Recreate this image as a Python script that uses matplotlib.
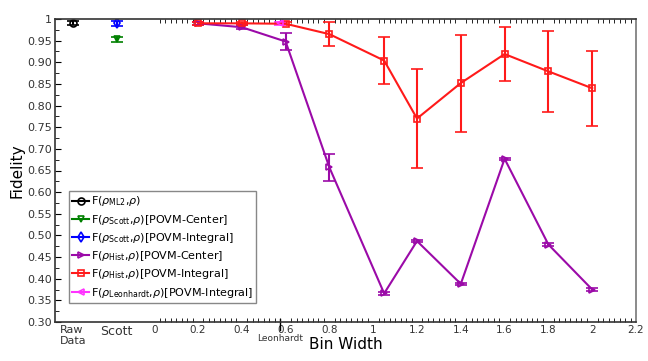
import matplotlib.pyplot as plt
from matplotlib.ticker import MultipleLocator
from matplotlib.lines import Line2D
import matplotlib.transforms as mtransforms

# Positions of the special categories on the x axis
x_raw = -0.372
x_scott = -0.171
x_leon = 0.573

# Single-point estimators
ml2_f, ml2_err = 0.990, 0.005
scott_center_f, scott_center_err = 0.953, 0.005
scott_integral_f, scott_integral_err = 0.990, 0.006
leon_f, leon_err = 0.990, 0.003

# Histogram estimators vs bin width
bin_width = [0.2, 0.4, 0.6, 0.8, 1.05, 1.2, 1.4, 1.6, 1.8, 2.0]
hist_center = [0.990, 0.981, 0.948, 0.657, 0.366, 0.487, 0.388, 0.677, 0.479, 0.375]
hist_center_err = [0.003, 0.004, 0.020, 0.032, 0.004, 0.003, 0.003, 0.003, 0.003, 0.003]
hist_integral = [0.990, 0.990, 0.989, 0.965, 0.904, 0.770, 0.852, 0.919, 0.879, 0.840]
hist_integral_err = [0.004, 0.004, 0.004, 0.027, 0.055, 0.115, 0.112, 0.063, 0.094, 0.087]

labels = [r'F($\rho_{\mathrm{ML2}}$,$\rho$)',
          r'F($\rho_{\mathrm{Scott}}$,$\rho$)[POVM-Center]',
          r'F($\rho_{\mathrm{Scott}}$,$\rho$)[POVM-Integral]',
          r'F($\rho_{\mathrm{Hist}}$,$\rho$)[POVM-Center]',
          r'F($\rho_{\mathrm{Hist}}$,$\rho$)[POVM-Integral]',
          r'F($\rho_{\mathrm{Leonhardt}}$,$\rho$)[POVM-Integral]']
colors = ['black', '#008000', '#0000ff', '#9b0aa8', '#ff1a1a', '#ff33ff']
markers = ['o', 'v', 'd', '>', 's', '<']

fig = plt.figure(figsize=(6.48, 3.61), dpi=100)
ax = fig.add_axes([55/648, 1 - 322/361, 581/648, 303/361])

ek = dict(capsize=4, elinewidth=1.5, capthick=1.5, markersize=5,
          markerfacecolor='none', markeredgewidth=1.2, lw=1.5)

ax.errorbar([x_raw], [ml2_f], yerr=[ml2_err], color=colors[0], marker=markers[0], **ek)
ax.errorbar([x_scott], [scott_center_f], yerr=[scott_center_err], color=colors[1],
            marker=markers[1], **ek)
ax.errorbar([x_scott], [scott_integral_f], yerr=[scott_integral_err], color=colors[2],
            marker=markers[2], **ek)
ax.errorbar(bin_width, hist_center, yerr=hist_center_err, color=colors[3],
            marker=markers[3], **ek)
ax.errorbar(bin_width, hist_integral, yerr=hist_integral_err, color=colors[4],
            marker=markers[4], **ek)
ax.errorbar([x_leon], [leon_f], yerr=[leon_err], color=colors[5], marker=markers[5], **ek)

ax.set_xlim(-0.453, 2.2)
ax.set_ylim(0.30, 1.0)

xt = [x_raw, x_scott, 0, 0.2, 0.4, 0.6, 0.8, 1.0, 1.2, 1.4, 1.6, 1.8, 2.0, 2.2]
xl = ['Raw\nData', 'Scott', '0', '0.2', '0.4', '0.6', '0.8', '1', '1.2', '1.4',
      '1.6', '1.8', '2', '2.2']
ax.set_xticks(xt)
ax.set_xticklabels(xl, fontsize=7.5, color='#333333')
ax.get_xticklabels()[0].set_multialignment('left')
ax.get_xticklabels()[0].set_fontsize(8)
ax.get_xticklabels()[1].set_fontsize(9)
minor_x = [i * 0.025 for i in range(0, 89)]
ax.set_xticks(minor_x, minor=True)

yt = [0.30 + 0.05 * i for i in range(15)]
ax.set_yticks(yt)
ax.set_yticklabels(['%.2f' % v for v in yt[:-1]] + ['1'], fontsize=8, color='#333333')
ax.yaxis.set_minor_locator(MultipleLocator(0.025))

ax.tick_params(axis='both', which='both', direction='in', top=True, right=False)
ax.tick_params(axis='x', which='major', length=0, pad=2)
ax.tick_params(axis='x', which='minor', length=3)
ax.tick_params(axis='y', which='major', length=4, pad=2)
ax.tick_params(axis='y', which='minor', length=3)

# Leonhardt marker on x axis
trans = mtransforms.blended_transform_factory(ax.transData, ax.transAxes)
ax.plot([x_leon, x_leon], [0.01, -0.028], color='black', lw=1, transform=trans,
        clip_on=False)
ax.text(x_leon, -0.038, 'Leonhardt', transform=trans, ha='center', va='top',
        fontsize=6.5, color='#333333')

for s in ax.spines.values():
    s.set_linewidth(1.2)
    s.set_color('#333333')
ax.spines['right'].set_color('#777777')

ax.set_xlabel('Bin Width', fontsize=11)
ax.xaxis.set_label_coords(0.5, -0.048)
ax.set_ylabel('Fidelity', fontsize=11)
ax.yaxis.set_label_coords(-0.052, 0.5)

handles = [Line2D([], [], color=c, marker=m, markersize=5, markerfacecolor='none',
                  markeredgewidth=1.2, lw=1.5) for c, m in zip(colors, markers)]
leg = ax.legend(handles, labels, loc='lower left', bbox_to_anchor=(0.024, 0.063),
                borderaxespad=0, fontsize=8, handlelength=1.5, handletextpad=0.15,
                labelspacing=0.38, borderpad=0.3, fancybox=False, framealpha=1)
leg.get_frame().set_edgecolor('#888888')

fig.savefig('out.png', dpi=100)
